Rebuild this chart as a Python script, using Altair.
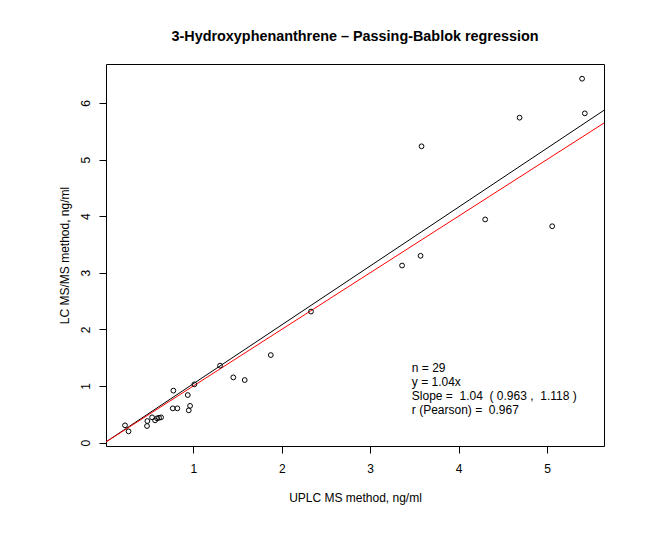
import altair as alt
import pandas as pd

# ---- data ----
uplc = [5.397, 5.428, 4.690, 3.581, 4.301, 5.059, 3.570, 3.361, 2.331,
        1.876, 1.302, 1.452, 1.581, 1.011, 0.774, 0.937, 0.767, 0.819,
        0.963, 0.948, 0.227, 0.267,
        0.480, 0.476, 0.533, 0.567, 0.589, 0.612, 0.635]
lcms = [6.428, 5.816, 5.740, 5.234, 3.942, 3.822, 3.300, 3.128, 2.315,
        1.546, 1.359, 1.152, 1.105, 1.029, 0.918, 0.840, 0.605, 0.605,
        0.649, 0.570, 0.305, 0.199,
        0.381, 0.293, 0.446, 0.393, 0.429, 0.438, 0.446]

pb_slope = 1.04        # Passing-Bablok regression y = 1.04x
identity_slope = 1.0   # line of identity
line_x = [0.0, 7.0]

x_ticks = [1, 2, 3, 4, 5]
y_ticks = [0, 1, 2, 3, 4, 5, 6]
x_domain = [0.012, 5.645]
y_domain = [-0.06, 6.688]

annot_lines = ["n = 29",
               "y = 1.04x",
               "Slope =\u00a0\u00a01.04\u00a0\u00a0( 0.963 ,\u00a0\u00a01.118 )",
               "r (Pearson) =\u00a0\u00a00.967"]
annot_x = [3.471, 3.471, 3.471, 3.471]
annot_y = [1.253, 1.006, 0.757, 0.508]

FONT = "Liberation Sans"
W, H = 498, 382

pts = pd.DataFrame({"uplc": uplc, "lcms": lcms})
lines = pd.DataFrame({
    "x": line_x + line_x,
    "y": [v * pb_slope for v in line_x] + [v * identity_slope for v in line_x],
    "line": ["Passing-Bablok"] * 2 + ["identity"] * 2,
})
ann = pd.DataFrame({"x": annot_x, "y": annot_y, "t": annot_lines})

xscale = alt.Scale(domain=x_domain, nice=False, zero=False)
yscale = alt.Scale(domain=y_domain, nice=False, zero=False)

xaxis = alt.Axis(values=x_ticks, format="d", grid=False, domain=False,
                 tickSize=7, tickColor="black", tickWidth=1,
                 labelFont=FONT, labelFontSize=12, labelColor="black",
                 labelBaseline="alphabetic", labelPadding=19.6,
                 title="UPLC MS method, ng/ml", titleFont=FONT,
                 titleFontSize=12, titleFontWeight="normal", titleColor="black",
                 titleX=W / 2, titleY=55.3, titleBaseline="alphabetic",
                 titleAlign="center")
yaxis = alt.Axis(values=y_ticks, format="d", grid=False, domain=False,
                 tickSize=7, tickColor="black", tickWidth=1,
                 labelFont=FONT, labelFontSize=12, labelColor="black",
                 labelAngle=270, labelAlign="center", labelBaseline="alphabetic",
                 labelPadding=9.7,
                 title="LC MS/MS method, ng/ml", titleFont=FONT,
                 titleFontSize=12, titleFontWeight="normal", titleColor="black",
                 titleAngle=270, titleX=-38, titleY=H / 2,
                 titleBaseline="alphabetic", titleAlign="center")

line_layer = alt.Chart(lines).mark_line(clip=True, strokeWidth=1).encode(
    x=alt.X("x:Q", scale=xscale, axis=xaxis),
    y=alt.Y("y:Q", scale=yscale, axis=yaxis),
    color=alt.Color("line:N", scale=alt.Scale(domain=["Passing-Bablok", "identity"],
                                              range=["black", "red"]), legend=None),
    order=alt.Order("line:N", sort="ascending"),
    detail="line:N",
)

point_layer = alt.Chart(pts).mark_point(shape="circle", filled=False, size=23,
                                        stroke="black", strokeWidth=1, opacity=1).encode(
    x=alt.X("uplc:Q", scale=xscale),
    y=alt.Y("lcms:Q", scale=yscale),
)

text_layer = alt.Chart(ann).mark_text(align="left", baseline="alphabetic",
                                      font=FONT, fontSize=12, color="black").encode(
    x=alt.X("x:Q", scale=xscale),
    y=alt.Y("y:Q", scale=yscale),
    text="t:N",
)

chart = alt.layer(line_layer, point_layer, text_layer).properties(
    width=W, height=H,
    title=alt.TitleParams(text="3-Hydroxyphenanthrene \u2013 Passing-Bablok regression",
                          font=FONT, fontSize=14.4, fontWeight="bold", color="black",
                          anchor="middle", frame="group", baseline="alphabetic",
                          offset=9),
    padding={"left": 98, "top": 56, "right": 50, "bottom": 80},
    autosize=alt.AutoSizeParams(type="none"),
    background="white",
).configure_view(stroke="black", strokeWidth=1)

chart.save("out.html", embed_options={"renderer": "svg", "actions": False})
